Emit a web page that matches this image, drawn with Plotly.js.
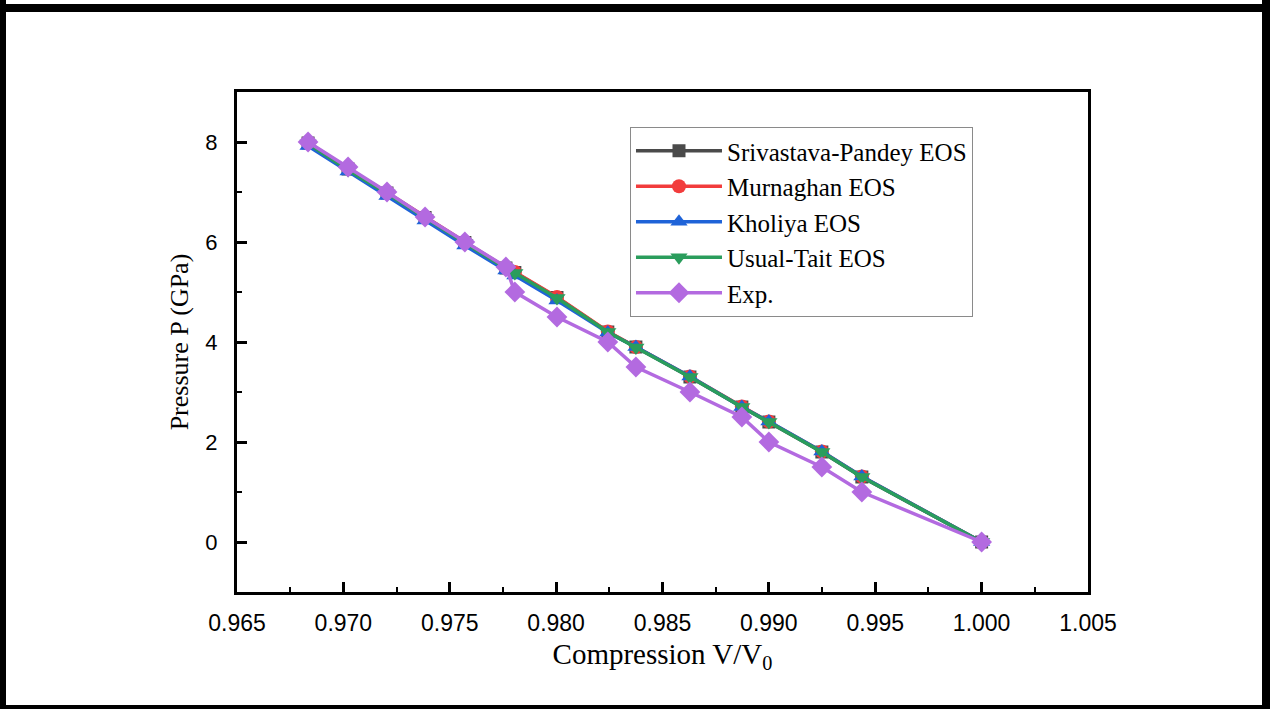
<!DOCTYPE html>
<html>
<head>
<meta charset="utf-8">
<script src="https://cdn.plot.ly/plotly-3.0.1.min.js"></script>
<style>
  html, body { margin: 0; padding: 0; background: #fff; }
  #wrap { position: relative; width: 1270px; height: 709px; overflow: hidden; }
  #chart { position: absolute; left: 0; top: 0; width: 1270px; height: 709px; }
  .bar { position: absolute; background: #000; }
</style>
</head>
<body>
<div id="wrap">
  <div id="chart"></div>
  <div class="bar" style="left:0;top:4px;width:1270px;height:8px;"></div>
  <div class="bar" style="left:0;top:0;width:6px;height:709px;"></div>
  <div class="bar" style="left:1262px;top:0;width:8px;height:709px;"></div>
  <div class="bar" style="left:0;top:705px;width:1270px;height:4px;"></div>
</div>
<script>
// Compression V/V0
const compression = [0.96834, 0.97022, 0.97205, 0.97384, 0.97571, 0.97764, 0.97806, 0.98004,
                     0.98243, 0.98375, 0.98629, 0.98873, 0.99000, 0.99249, 0.99437, 1.00000];
// Pressure (GPa)
const srivastavaPandey = [7.98, 7.46, 6.98, 6.49, 5.99, 5.48, 5.39, 4.89, 4.20, 3.90, 3.30, 2.70, 2.40, 1.80, 1.30, 0];
const murnaghan        = [7.99, 7.47, 6.99, 6.50, 6.00, 5.49, 5.40, 4.90, 4.21, 3.90, 3.31, 2.71, 2.41, 1.81, 1.31, 0];
const kholiya          = [7.92, 7.41, 6.92, 6.43, 5.93, 5.43, 5.33, 4.83, 4.19, 3.90, 3.31, 2.70, 2.41, 1.81, 1.31, 0];
const usualTait        = [7.97, 7.44, 6.97, 6.48, 5.98, 5.47, 5.38, 4.88, 4.20, 3.89, 3.30, 2.70, 2.40, 1.80, 1.30, 0];
const experiment       = [8.0, 7.5, 7.0, 6.5, 6.0, 5.5, 5.0, 4.5, 4.0, 3.5, 3.0, 2.5, 2.0, 1.5, 1.0, 0];

const seriesNames = ['Srivastava-Pandey EOS', 'Murnaghan EOS', 'Kholiya EOS', 'Usual-Tait EOS', 'Exp.'];
const xTickVals = [0.965, 0.970, 0.975, 0.980, 0.985, 0.990, 0.995, 1.000, 1.005];
const xTickText = ['0.965', '0.970', '0.975', '0.980', '0.985', '0.990', '0.995', '1.000', '1.005'];
const yTickVals = [0, 2, 4, 6, 8];

const styles = [
  {color: '#4a4a4a', symbol: 'square', size: 13},
  {color: '#f23c3c', symbol: 'circle', size: 14},
  {color: '#1f63d8', symbol: 'triangle-up', size: 15},
  {color: '#2a9d5c', symbol: 'triangle-down', size: 15},
  {color: '#b36ae0', symbol: 'diamond', size: 16}
];
const ys = [srivastavaPandey, murnaghan, kholiya, usualTait, experiment];

const traces = ys.map((y, i) => ({
  type: 'scatter',
  mode: 'lines+markers',
  name: seriesNames[i],
  x: compression,
  y: y,
  line: {color: styles[i].color, width: 3.5},
  marker: {color: styles[i].color, symbol: styles[i].symbol, size: styles[i].size}
}));

const axisCommon = {
  showgrid: false,
  zeroline: false,
  showline: true,
  linecolor: '#000',
  linewidth: 3,
  mirror: true,
  ticks: 'inside',
  tickcolor: '#000',
  tickwidth: 2.5,
  ticklen: 10
};

const layout = {
  width: 1270,
  height: 709,
  paper_bgcolor: '#fff',
  plot_bgcolor: '#fff',
  margin: {l: 237, r: 182, t: 92, b: 117},
  showlegend: true,
  legend: {
    x: 0.4618, y: 0.93, xanchor: 'left', yanchor: 'top',
    bgcolor: 'rgba(255,255,255,1)',
    bordercolor: '#8a8a8a', borderwidth: 1,
    itemwidth: 86,
    font: {family: 'Liberation Serif, Times New Roman, serif', size: 25, color: '#000'},
    tracegroupgap: 0
  },
  xaxis: Object.assign({}, axisCommon, {
    range: [0.965, 1.005],
    tickvals: xTickVals,
    ticktext: xTickText,
    ticklabelstandoff: 8,
    tickfont: {family: 'Liberation Sans, Arial, sans-serif', size: 23, color: '#000'},
    minor: {dtick: 0.0025, ticks: 'inside', ticklen: 5, tickwidth: 2, tickcolor: '#000', showgrid: false},
    title: {text: 'Compression V/V<sub>0</sub>', standoff: 10,
            font: {family: 'Liberation Serif, Times New Roman, serif', size: 29, color: '#000'}}
  }),
  yaxis: Object.assign({}, axisCommon, {
    range: [-1, 9],
    tickvals: yTickVals,
    ticklabelstandoff: 12,
    tickfont: {family: 'Liberation Sans, Arial, sans-serif', size: 22, color: '#000'},
    minor: {dtick: 1, ticks: 'inside', ticklen: 5, tickwidth: 2, tickcolor: '#000', showgrid: false},
    title: {text: 'Pressure P (GPa)', standoff: 10,
            font: {family: 'Liberation Serif, Times New Roman, serif', size: 26, color: '#000'}}
  })
};

Plotly.newPlot('chart', traces, layout, {displayModeBar: false, responsive: false});
</script>
</body>
</html>
